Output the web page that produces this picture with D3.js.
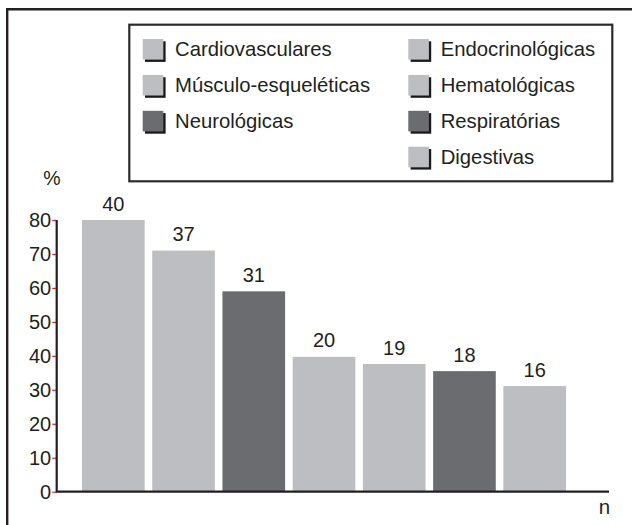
<!DOCTYPE html>
<html>
<head>
<meta charset="utf-8">
<script src="https://cdn.jsdelivr.net/npm/d3@7"></script>
<style>
  html, body { margin: 0; padding: 0; background: #fff; }
  svg { display: block; }
  text { font-family: "Liberation Sans", Arial, Helvetica, sans-serif; fill: #231f20; }
</style>
</head>
<body>
<svg id="chart" width="632" height="525"></svg>
<script>
// ---- data ----
const categories = ["Cardiovasculares", "Músculo-esqueléticas", "Neurológicas", "Endocrinológicas", "Hematológicas", "Respiratórias", "Digestivas"];
const nValues = [40, 37, 31, 20, 19, 18, 16];
const percentValues = [80, 71, 59, 39.7, 37.6, 35.5, 31.1];
const yTicks = [0, 10, 20, 30, 40, 50, 60, 70, 80];
const legendColumn1 = ["Cardiovasculares", "Músculo-esqueléticas", "Neurológicas"];
const legendColumn2 = ["Endocrinológicas", "Hematológicas", "Respiratórias", "Digestivas"];
const darkCategories = ["Neurológicas", "Respiratórias"];

const LIGHT = "#bdbec2", DARK = "#6b6c70", INK = "#231f20";
const color = d => darkCategories.includes(d) ? DARK : LIGHT;

const svg = d3.select("#chart");

// frame (left + top)
svg.append("path")
  .attr("d", "M7.2,525 L7.2,9.2 L632,9.2")
  .attr("fill", "none").attr("stroke", INK).attr("stroke-width", 2.4);

// scales
const x = d3.scaleBand().domain(categories).range([82, 566]).paddingInner(0.108).paddingOuter(0);
const y = d3.scaleLinear().domain([0, 80]).range([491.7, 220]);

// bars
const data = categories.map((c, i) => ({ c, n: nValues[i], p: percentValues[i] }));
svg.append("g").selectAll("rect").data(data).join("rect")
  .attr("x", d => x(d.c)).attr("width", x.bandwidth())
  .attr("y", d => y(d.p)).attr("height", d => y(0) - y(d.p))
  .attr("fill", d => color(d.c));

// value labels
svg.append("g").selectAll("text").data(data).join("text")
  .attr("x", d => x(d.c) + x.bandwidth() / 2)
  .attr("y", d => y(d.p) - 9.5)
  .attr("text-anchor", "middle")
  .style("font-size", "20px")
  .text(d => d.n);

// y axis
const yAxis = d3.axisLeft(y).tickValues(yTicks).tickSize(4.5).tickPadding(1).tickFormat(d3.format("d"));
const gy = svg.append("g").attr("transform", "translate(56.7,0)").call(yAxis);
gy.select(".domain").remove();
gy.selectAll(".tick line").attr("stroke", "#e8262c").attr("stroke-width", 1.2);
gy.selectAll(".tick text").style("font-size", "20px").style("font-family", '"Liberation Sans", Arial, sans-serif').attr("fill", INK);

// axis lines
svg.append("path")
  .attr("d", `M56.7,${y(80)} L56.7,${y(0)} L609,${y(0)}`)
  .attr("fill", "none").attr("stroke", INK).attr("stroke-width", 2.2);

// axis titles
svg.append("text").attr("x", 52).attr("y", 184.5).attr("text-anchor", "middle").style("font-size", "19.5px").text("%");
svg.append("text").attr("x", 604.5).attr("y", 514).attr("text-anchor", "middle").style("font-size", "20.5px").text("n");

// legend box
svg.append("rect").attr("x", 129.3).attr("y", 24.7).attr("width", 483).attr("height", 156.6)
  .attr("fill", "#fff").attr("stroke", "#2b2b2b").attr("stroke-width", 2.2);

function legendColumn(items, sx, tx) {
  const g = svg.append("g");
  const rows = g.selectAll("g").data(items).join("g")
    .attr("transform", (d, i) => `translate(0,${39 + i * 35.9})`);
  rows.append("rect").attr("x", sx + 2.3).attr("y", 2.3).attr("width", 20.6).attr("height", 20.6).attr("fill", "#1a1a1a");
  rows.append("rect").attr("x", sx).attr("y", 0).attr("width", 20.6).attr("height", 20.6).attr("fill", d => color(d));
  rows.append("text").attr("x", tx).attr("y", 16.8).style("font-size", "20.3px").text(d => d);
}
legendColumn(legendColumn1, 142.7, 175);
legendColumn(legendColumn2, 408.3, 440.7);
</script>
</body>
</html>
